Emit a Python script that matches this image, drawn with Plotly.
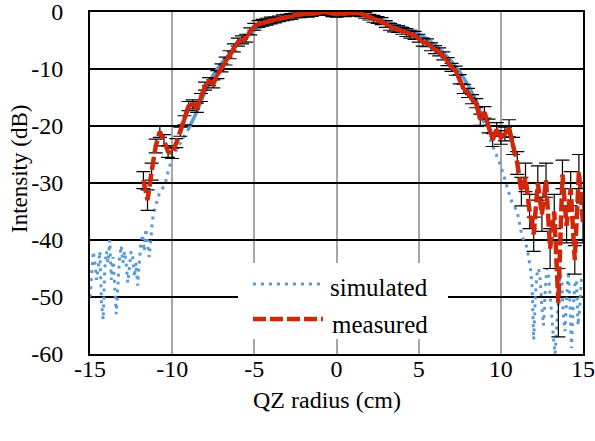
import numpy as np
import plotly.graph_objects as go

# ---------------- data ----------------
sim_x_left = np.round(np.arange(-15.0, -10.05, 0.1), 1)
sim_y_left = [-50, -45, -42, -44, -47, -45, -42, -51, -54, -45,
              -42, -44, -40, -47, -43, -48, -53, -48, -43, -41,
              -44, -42, -44, -47.5, -45, -42, -43, -46.5, -44, -48,
              -44, -40.5, -39, -42, -38, -41, -43, -40, -36.5, -35,
              -34, -33, -32, -31.5, -31, -30.5, -30, -28.5, -27.5, -26.5]
sim_x_body = np.round(np.arange(-10.0, 10.01, 0.5), 1)
sim_y_body = [-25.6, -23.0, -20.5, -17.5, -14.0, -11.0, -9.0, -7.2, -5.5, -4.2,
              -3.2, -2.5, -2.0, -1.6, -1.2, -0.9, -0.6, -0.3, -0.1, 0.0,
              -0.05, -0.1, -0.2, -0.4, -0.7, -1.1, -1.6, -2.1, -2.6, -3.1,
              -3.8, -4.7, -5.8, -7.1, -8.7, -10.5, -12.8, -15.5, -19.5, -23.5,
              -27.0]
sim_x_right = np.round(np.arange(10.1, 15.01, 0.1), 1)
sim_y_right = [-28, -29, -30, -31, -32, -32.8, -33.5, -34, -34.5, -35,
               -36.5, -38, -39.5, -40, -40.5, -41.5, -43, -45, -48, -57.5,
               -50, -46, -45, -47, -52, -55, -49, -45, -46, -50,
               -53, -57, -60, -55, -49, -46, -47, -53, -56, -50,
               -45.5, -50.5, -59, -52, -48, -47, -55, -52, -47, -46]

meas_x = np.round(np.arange(-11.75, 15.01, 0.25), 2)
meas_y = [-29.5, -33.0, -28.0, -23.5, -21.0, -22.5, -24.5, -24.8,
          -23.0, -21.0, -19.0, -16.5, -16.2, -16.8, -15.0, -13.0,
          -12.2, -12.6, -11.0, -9.8, -8.6, -7.5, -6.3, -5.3,
          -4.9, -4.6, -3.4, -2.6, -2.1, -1.9, -1.7, -1.5,
          -1.4, -1.2, -1.0, -0.9, -0.8, -0.5, -0.5, -0.3,
          -0.4, -0.25, -0.1, 0.0, 0.0, -0.1, -0.3, -0.4,
          -0.2, -0.3, -0.2, -0.1, -0.2, -0.3, -0.6, -0.9,
          -1.2, -1.4, -1.6, -2.1, -2.6, -2.9, -3.0, -3.3,
          -3.6, -3.9, -4.1, -4.6, -5.3, -5.4, -6.1, -6.6,
          -7.0, -7.7, -8.7, -9.7, -10.3, -11.8, -13.5, -14.2,
          -15.3, -16.0, -18.9, -17.6, -20.0, -22.4, -20.6, -22.0,
          -21.4, -20.4, -23.5, -26.5, -31.5, -29.0, -35.0, -39.0,
          -30.0, -35.5, -29.5, -41.5, -35.0, -51.0, -28.5, -37.5,
          -31.0, -43.5, -28.0, -37.0]
meas_err = [1.5, 1.8, 1.5, 1.2, 1.0, 1.0, 1.0, 0.9,
            0.8, 0.8, 0.8, 0.8, 0.8, 0.8, 0.7, 0.7,
            0.7, 0.7, 0.7, 0.7, 0.7, 0.7, 0.7, 0.7,
            0.7, 0.7, 0.6, 0.6, 0.6, 0.6, 0.6, 0.6,
            0.5, 0.5, 0.5, 0.5, 0.5, 0.5, 0.5, 0.5,
            0.5, 0.5, 0.5, 0.5, 0.5, 0.5, 0.5, 0.5,
            0.5, 0.5, 0.5, 0.5, 0.5, 0.5, 0.5, 0.5,
            0.6, 0.6, 0.6, 0.6, 0.6, 0.6, 0.6, 0.6,
            0.7, 0.7, 0.7, 0.7, 0.7, 0.7, 0.7, 0.7,
            0.7, 0.7, 0.7, 0.7, 0.8, 0.8, 0.8, 0.8,
            0.8, 0.8, 1.0, 1.0, 1.2, 1.2, 1.2, 1.2,
            1.2, 1.5, 1.5, 2.0, 2.5, 2.5, 3.0, 3.0,
            3.0, 3.0, 3.0, 3.5, 3.0, 6.0, 2.5, 3.0,
            3.0, 2.5, 3.0, 3.5]

x_ticks = [-15, -10, -5, 0, 5, 10, 15]
x_tick_text = ["-15", "-10", "-5", "0", "5", "10", "15"]
y_ticks = [-60, -50, -40, -30, -20, -10, 0]
y_tick_text = ["-60", "-50", "-40", "-30", "-20", "-10", "0"]

# ---------------- figure ----------------
BLUE = "#5B9BD5"
RED = "#D0260A"
FONT = "'Liberation Serif', 'Times New Roman', 'DejaVu Serif', serif"

sim_x = np.concatenate([sim_x_left, sim_x_body, sim_x_right])
sim_y = np.array(sim_y_left + sim_y_body + sim_y_right)
meas_x_arr = np.array(meas_x)
meas_y_arr = np.array(meas_y)

fig = go.Figure()

fig.add_trace(go.Scatter(x=sim_x, y=sim_y, mode="lines", name="simulated",
                         line=dict(color=BLUE, width=3, dash="3px,5px"),
                         showlegend=False))
body = np.abs(sim_x) <= 9.0
fig.add_trace(go.Scatter(x=sim_x[body], y=sim_y[body], mode="lines",
                         line=dict(color=BLUE, width=3.5), showlegend=False,
                         hoverinfo="skip"))

fig.add_trace(go.Scatter(x=meas_x_arr, y=meas_y_arr, mode="lines", name="measured",
                         line=dict(color=RED, width=4.5, dash="13px,4px"),
                         error_y=dict(type="data", array=meas_err, visible=True,
                                      color="black", thickness=1.2, width=7),
                         showlegend=False))
mbody = (meas_x_arr >= -9.5) & (meas_x_arr <= 10.75)
fig.add_trace(go.Scatter(x=meas_x_arr[mbody], y=meas_y_arr[mbody], mode="lines",
                         line=dict(color=RED, width=4), showlegend=False,
                         hoverinfo="skip"))

# pixel -> paper helpers (plot area in pixels)
L, R, T, B = 90, 583, 12, 354
def px(xp):
    return (xp - L) / (R - L)
def py(yp):
    return (B - yp) / (B - T)

shapes = [
    dict(type="rect", xref="paper", yref="paper", x0=px(238), x1=px(448),
         y0=py(339), y1=py(263), fillcolor="white", line=dict(width=0), layer="above"),
    dict(type="line", xref="paper", yref="paper", x0=px(253), x1=px(323),
         y0=py(284), y1=py(284), line=dict(color=BLUE, width=3, dash="3px,5px"), layer="above"),
    dict(type="line", xref="paper", yref="paper", x0=px(253), x1=px(323),
         y0=py(319), y1=py(319), line=dict(color=RED, width=4.5, dash="13px,4px"), layer="above"),
]
annotations = [
    dict(xref="paper", yref="paper", x=px(328), y=py(287), text="simulated",
         showarrow=False, xanchor="left", yanchor="middle",
         font=dict(family=FONT, size=25, color="black")),
    dict(xref="paper", yref="paper", x=px(330), y=py(324), text="measured",
         showarrow=False, xanchor="left", yanchor="middle",
         font=dict(family=FONT, size=25, color="black")),
    dict(xref="paper", yref="paper", x=px(326.5), y=py(400), text="QZ radius (cm)",
         showarrow=False, xanchor="center", yanchor="middle",
         font=dict(family=FONT, size=24, color="black")),
    dict(xref="paper", yref="paper", x=px(20), y=py(169), text="Intensity (dB)",
         showarrow=False, xanchor="center", yanchor="middle", textangle=-90,
         font=dict(family=FONT, size=23, color="black")),
]

fig.update_layout(
    width=595, height=441,
    margin=dict(l=L, r=595 - R, t=T, b=441 - B, autoexpand=False),
    paper_bgcolor="white", plot_bgcolor="white",
    font=dict(family=FONT, size=24, color="black"),
    showlegend=False,
    shapes=shapes, annotations=annotations,
)
fig.update_xaxes(range=[-15, 15], tickvals=x_ticks, ticktext=x_tick_text,
                 showgrid=True, gridcolor="#A6A6A6", gridwidth=2,
                 showline=True, linecolor="black", linewidth=2, mirror=True,
                 zeroline=False, ticks="", ticklabelstandoff=-8, automargin=False,
                 ticklabeloverflow="allow",
                 tickfont=dict(family=FONT, size=24))
fig.update_yaxes(range=[-60, 0], tickvals=y_ticks, ticktext=y_tick_text,
                 showgrid=True, gridcolor="black", gridwidth=1.6,
                 showline=True, linecolor="black", linewidth=2, mirror=True,
                 zeroline=False, ticks="", ticklabelstandoff=20, automargin=False,
                 ticklabeloverflow="allow",
                 tickfont=dict(family=FONT, size=24))

fig.write_html("out.html", config={"displayModeBar": False},
               post_script="document.body.style.margin='0px';")
